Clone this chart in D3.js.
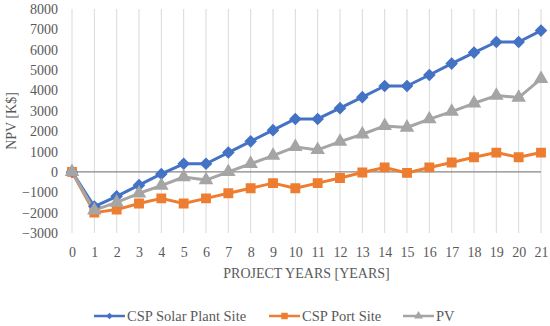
<!DOCTYPE html>
<html>
<head>
<meta charset="utf-8">
<script src="https://cdn.jsdelivr.net/npm/d3@7"></script>
<style>
  html, body { margin: 0; padding: 0; background: #fff; }
  svg { display: block; font-family: "Liberation Serif", "DejaVu Serif", serif; }
</style>
</head>
<body>
<svg id="chart" width="550" height="326"></svg>
<script>
// data
const years = d3.range(0, 22);
const cspSolar = [0, -1700, -1200, -650, -100, 400, 400, 950, 1500, 2050, 2600, 2600,
  3130, 3670, 4220, 4220, 4760, 5320, 5860, 6380, 6380, 6940];
const cspPort = [0, -2000, -1850, -1550, -1300, -1550, -1300, -1050, -800, -550, -800, -550,
  -300, -30, 220, -50, 220, 460, 720, 950, 720, 950];
const pv = [0, -1880, -1500, -1050, -670, -250, -400, 0, 400, 800, 1230, 1080,
  1490, 1850, 2260, 2180, 2590, 2960, 3370, 3750, 3650, 4570];
const yTicks = d3.range(-3000, 8001, 1000);

const seriesNames = ["CSP Solar Plant Site", "CSP Port Site", "PV"];
const seriesColors = ["#4472C4", "#ED7D31", "#A5A5A5"];

const svg = d3.select("#chart");
const WIDTH = 550, HEIGHT = 326;
const M = { top: 9, right: 9, bottom: 93, left: 72 };
const TEXT = "#595959";

const x = d3.scalePoint().domain(years).range([M.left, WIDTH - M.right]);
const y = d3.scaleLinear().domain([-3000, 8000]).range([HEIGHT - M.bottom, M.top]);

// markers: diamond = rotated square, like Excel
const markers = [
  s => d3.symbol().type(d3.symbolSquare).size(s)(),
  s => d3.symbol().type(d3.symbolSquare).size(s)(),
  s => d3.symbol().type(d3.symbolTriangle).size(s)()
];
const markerRot = [45, 0, 0];
const markerSize = [55, 70, 62];
const legendMarkerSize = [22, 42, 34];

// vertical gridlines
svg.append("g")
  .selectAll("line")
  .data(years)
  .join("line")
    .attr("x1", d => x(d)).attr("x2", d => x(d))
    .attr("y1", y(8000)).attr("y2", y(-3000))
    .attr("stroke", "#D9D9D9").attr("stroke-width", 1);

// zero line
svg.append("line")
  .attr("x1", x(0)).attr("x2", x(21))
  .attr("y1", y(0)).attr("y2", y(0))
  .attr("stroke", "#868686").attr("stroke-width", 1.3);

// y axis labels
const yAxis = svg.append("g")
  .attr("transform", `translate(${M.left - 14},0)`)
  .call(d3.axisLeft(y).tickValues(yTicks).tickSize(0).tickPadding(0).tickFormat(d3.format("d")));
yAxis.select(".domain").remove();
yAxis.selectAll("text").attr("fill", TEXT).style("font-size", "14px")
  .style("font-family", "Liberation Serif, serif");

// x axis labels
const xAxis = svg.append("g")
  .attr("transform", `translate(0,${y(-3000) + 14})`)
  .call(d3.axisBottom(x).tickSize(0).tickPadding(0));
xAxis.select(".domain").remove();
xAxis.selectAll("text").attr("fill", TEXT).style("font-size", "14px")
  .style("font-family", "Liberation Serif, serif");

// axis titles
svg.append("text")
  .attr("x", (M.left + WIDTH - M.right) / 2)
  .attr("y", 278)
  .attr("text-anchor", "middle")
  .attr("fill", TEXT)
  .style("font-size", "14px")
  .text("PROJECT YEARS [YEARS]");

svg.append("text")
  .attr("transform", `translate(16,${(M.top + HEIGHT - M.bottom) / 2}) rotate(-90)`)
  .attr("text-anchor", "middle")
  .attr("fill", TEXT)
  .style("font-size", "14px")
  .text("NPV [K$]");

// series
const allSeries = [cspSolar, cspPort, pv];
const line = d3.line().x((d, i) => x(years[i])).y(d => y(d));

allSeries.forEach((vals, si) => {
  svg.append("path")
    .datum(vals)
    .attr("d", line)
    .attr("fill", "none")
    .attr("stroke", seriesColors[si])
    .attr("stroke-width", 3)
    .attr("stroke-linejoin", "round");
});

allSeries.forEach((vals, si) => {
  svg.append("g")
    .selectAll("path")
    .data(vals)
    .join("path")
      .attr("transform", (d, i) => `translate(${x(years[i])},${y(d)}) rotate(${markerRot[si]})`)
      .attr("d", markers[si](markerSize[si]))
      .attr("fill", seriesColors[si])
      .attr("stroke", seriesColors[si])
      .attr("stroke-width", 1.5);
});

// legend
const legendX = [94, 269, 403];
const legend = svg.append("g").attr("transform", "translate(0,316)");
seriesNames.forEach((name, si) => {
  const g = legend.append("g").attr("transform", `translate(${legendX[si]},0)`);
  g.append("line").attr("x1", 0).attr("x2", 31).attr("y1", 0).attr("y2", 0)
    .attr("stroke", seriesColors[si]).attr("stroke-width", 2.5);
  g.append("path").attr("transform", `translate(15.5,0) rotate(${markerRot[si]})`)
    .attr("d", markers[si](legendMarkerSize[si]))
    .attr("fill", seriesColors[si]);
  g.append("text").attr("x", 33).attr("y", 5)
    .attr("fill", TEXT).style("font-size", "14.5px").text(name);
});
</script>
</body>
</html>
